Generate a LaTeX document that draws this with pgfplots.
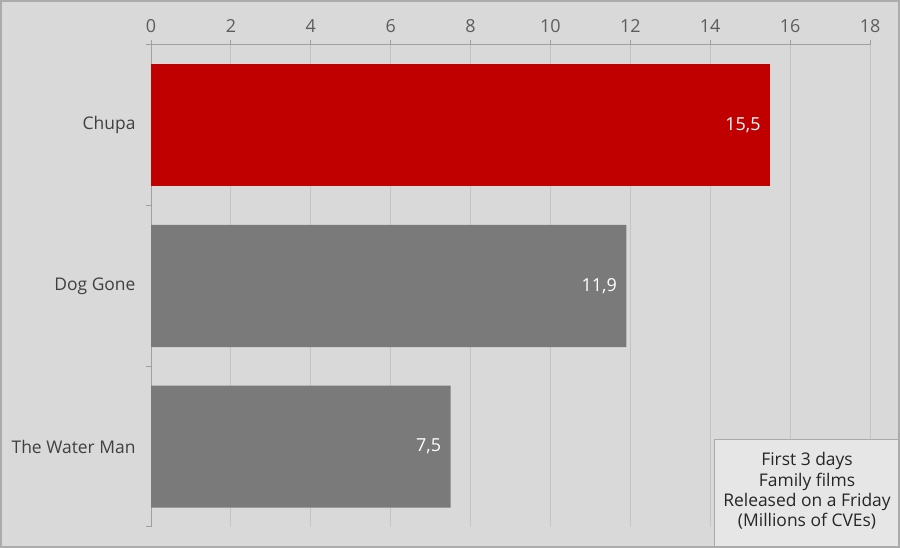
\documentclass[border=0pt]{standalone}
\usepackage{pgfplots}
\pgfplotsset{compat=1.18}
\usepackage{fontspec}
\setmainfont{Open Sans}
\definecolor{bg}{HTML}{D9D9D9}
\definecolor{gridc}{HTML}{C4C4C4}
\definecolor{axisc}{HTML}{A0A0A0}
\definecolor{chupa}{HTML}{C00000}
\definecolor{barg}{HTML}{7A7A7A}
\definecolor{txt}{HTML}{404040}
\definecolor{boxc}{HTML}{E6E6E6}
\definecolor{frame}{HTML}{ABABAB}
\begin{document}
\begin{tikzpicture}[x=1bp,y=1bp]
\useasboundingbox (0,0) rectangle (900,548);
\fill[bg] (0,0) rectangle (900,548);
\begin{axis}[
    at={(151bp,21bp)}, anchor=south west,
    scale only axis, width=719bp, height=482bp,
    xbar, bar width=0.76, bar shift=0pt,
    xmin=0, xmax=18, ymin=-0.5, ymax=2.5,
    axis x line*=top, axis y line*=left,
    axis line style={draw=axisc, line width=1bp},
    xtick={0,2,...,18},
    xmajorgrids, grid style={draw=gridc, line width=0.8bp},
    tick align=outside, major tick length=5bp,
    tick style={draw=axisc, line width=1bp},
    ytick={-0.5,0.5,1.5,2.5}, yticklabels={},
    extra y ticks={0,1,2},
    extra y tick labels={The Water Man,Dog Gone,Chupa},
    extra y tick style={major tick length=0pt, tick style={draw=none}},
    /pgf/number format/assume math mode=true,
    yticklabel style={font=\fontsize{17.5}{17.5}\selectfont, text=txt, xshift=-12bp},
    xticklabel style={font=\fontsize{18}{18}\selectfont, text=txt!85, yshift=4bp},
    point meta=x,
    nodes near coords={\pgfmathprintnumber[fixed,precision=1,use comma,assume math mode=true]{\pgfplotspointmeta}},
    every node near coord/.append style={anchor=east, xshift=-6bp, text=white, font=\fontsize{18}{18}\selectfont},
]
\addplot[fill=chupa, draw=none] coordinates {(15.5,2)};
\addplot[fill=barg, draw=none] coordinates {(11.9,1) (7.5,0)};
\end{axis}
\draw[fill=boxc, draw=frame, line width=1bp] (714,108) rectangle (904,-4);
\node[align=center, text=black!85, font=\fontsize{17.5}{20.5}\selectfont] at (807,57) {First 3 days\\Family films\\Released on a Friday\\(Millions of CVEs)};
\draw[frame, line width=2bp] (1,1) rectangle (899,547);
\end{tikzpicture}
\end{document}
